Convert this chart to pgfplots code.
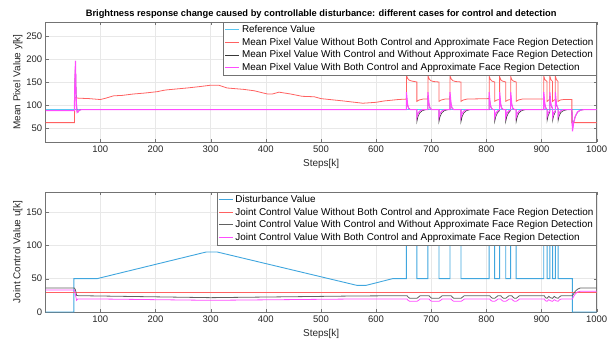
\documentclass[border=0pt]{standalone}
\usepackage{fontspec}
\setmainfont{Liberation Sans}
\usepackage{pgfplots}
\pgfplotsset{compat=1.18}
\definecolor{refc}{rgb}{0.35,0.78,0.95}
\definecolor{redc}{rgb}{1,0.38,0.38}
\definecolor{blkc}{rgb}{0.22,0.22,0.22}
\definecolor{magc}{rgb}{1,0.3,1}
\definecolor{disc}{rgb}{0.25,0.65,0.87}
\definecolor{gryc}{rgb}{0.38,0.38,0.38}
\pgfplotsset{
  myax/.style={
    scale only axis, width=551pt, height=120pt,
    xmin=1, xmax=1000,
    xtick={100,200,...,1000},
    grid=major, major grid style={gray!18, line width=0.4pt},
    axis line style={black!55, line width=0.5pt},
    tick style={black!55},
    tick align=inside, major tick length=3pt,
    ticklabel style={font=\fontsize{9.5}{11}\selectfont, text=black!85},
    /pgf/number format/assume math mode=true,
    /pgf/number format/1000 sep={},
    label style={font=\fontsize{10}{12}\selectfont, text=black!85},
    ylabel shift=-3pt,
    xlabel={Steps[k]},
    legend cell align=left,
    legend style={at={(1,1)}, anchor=north east, draw=black!55,
      font=\fontsize{9.9}{10.6}\selectfont, inner sep=1pt},
  },
  mylegline/.style 2 args={legend image code/.code={\draw[draw=#1,line width=#2] (0pt,0pt) -- (14pt,0pt);}},
}
\begin{document}
\begin{tikzpicture}
\begin{axis}[myax, name=top, ymin=20, ymax=280, ytick={50,100,150,200,250},
  ylabel={Mean Pixel Value y[k]},
  title={Brightness response change caused by controllable disturbance: different cases for control and detection},
  title style={font=\fontsize{9.3}{11}\selectfont\bfseries, yshift=-6pt}]
\addplot[forget plot, color=refc, line width=1.4pt] coordinates {(1,90) (1000,90)};
\addplot[forget plot, color=redc, line width=0.8pt] coordinates {
(1,62)(53,62)(54,116)(60,115)(80,114)(100,112)(110,115)(124,120)(140,121)(160,124)(180,126)(203,129)(215,132)(221,133)(257,137)(280,140)(300,143)(315,143)(330,137)(360,134)(379,131)(403,124)(412,124)(424,128)(445,124)(466,119)(488,118)(500,114)(540,109)(576,104)(600,106)(615,109)(640,112)(655,113)
(655,165)(657,158)(660,154)(665,152)(674,150)(674,108)(678,111)(685,113)
(694,113)(694,164)(696,157)(699,153)(704,151)(714,150)(714,108)(718,111)(725,113)
(734,113)(734,164)(736,157)(739,153)(744,151)(754,150)(754,108)(758,111)(765,113)
(805,114)(805,163)(807,156)(810,152)(815,150)(815,108)(819,111)(824,112)
(824,162)(826,155)(829,152)(835,150)(835,108)(839,111)(844,112)
(844,162)(846,155)(849,152)(854,150)(854,108)(858,111)(865,113)
(904,113)(904,163)(906,155)(910,151)(910,108)(913,111)(915,112)
(915,163)(917,155)(920,151)(920,108)(923,111)(925,112)
(925,163)(927,155)(930,151)(930,108)(934,111)(940,112)(955,112)(955,62)(1000,62)};
\addplot[forget plot, color=blkc, line width=0.6pt] coordinates {
(1,88)(53,88)(54,150)(55,190)(56,130)(57,100)(58,86)(60,85)(62,89)(65,90)
(655,90)(655,120)(657,100)(659,93)(662,90)(674,90)(674,64)(676,75)(679,83)(684,88)(690,90)
(694,90)(694,120)(696,100)(698,93)(701,90)(714,90)(714,64)(716,75)(719,83)(724,88)(730,90)
(734,90)(734,120)(736,100)(738,93)(741,90)(754,90)(754,64)(756,75)(759,83)(764,88)(770,90)
(805,90)(805,120)(807,100)(809,93)(812,90)(815,90)(815,64)(817,75)(820,83)(824,88)
(824,120)(826,100)(828,93)(831,90)(835,90)(835,64)(837,75)(840,83)(844,88)
(844,120)(846,100)(848,93)(851,90)(854,90)(854,64)(856,75)(859,83)(864,88)(870,90)
(904,90)(904,120)(906,100)(908,93)(910,90)(910,66)(912,77)(915,85)
(915,120)(917,100)(920,92)(920,66)(922,77)(925,85)
(925,120)(927,100)(930,92)(930,66)(932,77)(935,84)(940,88)(946,90)
(955,90)(956,48)(958,62)(961,75)(965,84)(970,89)(976,90)(1000,90)};
\addplot[forget plot, color=magc, line width=1.1pt] coordinates {
(1,88)(53,88)(54,160)(55,196)(56,125)(57,95)(58,84)(60,86)(62,89)(65,90)
(655,90)(655,128)(657,102)(659,93)(662,90)(674,90)(674,74)(676,82)(679,87)(684,90)
(694,90)(694,128)(696,102)(698,93)(701,90)(714,90)(714,74)(716,82)(719,87)(724,90)
(734,90)(734,128)(736,102)(738,93)(741,90)(754,90)(754,74)(756,82)(759,87)(764,90)
(805,90)(805,128)(807,102)(809,93)(812,90)(815,90)(815,74)(817,82)(820,87)(824,90)
(824,128)(826,102)(828,93)(831,90)(835,90)(835,74)(837,82)(840,87)(844,90)
(844,128)(846,102)(848,93)(851,90)(854,90)(854,74)(856,82)(859,87)(864,90)
(904,90)(904,128)(906,102)(908,93)(910,90)(910,75)(912,83)(915,88)
(915,128)(917,102)(920,92)(920,75)(922,83)(925,88)
(925,128)(927,102)(930,92)(930,75)(932,83)(935,88)(940,90)
(955,90)(956,43)(958,60)(961,75)(965,85)(970,89)(976,90)(1000,90)};
\addlegendimage{mylegline={refc}{1.4pt}}
\addlegendentry{Reference Value}
\addlegendimage{mylegline={redc}{0.8pt}}
\addlegendentry{Mean Pixel Value Without Both Control and Approximate Face Region Detection}
\addlegendimage{mylegline={blkc}{0.7pt}}
\addlegendentry{Mean Pixel Value With Control and Without Approximate Face Region Detection}
\addlegendimage{mylegline={magc}{1.4pt}}
\addlegendentry{Mean Pixel Value With Both Control and Approximate Face Region Detection}
\end{axis}
\begin{axis}[myax, name=bot, at={(top.south west)}, anchor=north west, yshift=-50pt,
  ymin=0, ymax=180, ytick={0,50,100,150},
  ylabel={Joint Control Value u[k]}]
\addplot[forget plot, color=disc, line width=0.9pt] coordinates {
(1,0)(52,0)(52,50)(94,50)(292,90)(312,90)(565,40)(582,40)(630,50)(655,50)(655,100)(674,100)(674,50)(694,50)(694,100)(714,100)(714,50)(734,50)(734,100)(754,100)(754,50)(805,50)(805,100)(815,100)(815,50)(824,50)(824,100)(835,100)(835,50)(844,50)(844,100)(854,100)(854,50)(904,50)(904,100)(910,100)(910,50)(915,50)(915,100)(920,100)(920,50)(925,50)(925,100)(930,100)(930,50)(956,50)(956,0)(1000,0)};
\addplot[forget plot, color=redc, line width=1pt] coordinates {(1,30)(1000,30)};
\addplot[forget plot, color=gryc, line width=0.8pt] coordinates {
(1,36)(53,36)(55,33)(57,25)(60,24.5)(100,24)(300,21.5)(560,24)(656,24.5)
(658,22.5)(661,20.5)(674,20.5)(677,22.5)(680,24.5)
(696,24.5)(698,22.5)(701,20.5)(714,20.5)(717,22.5)(720,24.5)
(736,24.5)(738,22.5)(741,20.5)(754,20.5)(757,22.5)(760,24.5)
(806,24.5)(808,22.5)(811,20.5)(815,20.5)(818,22.5)(821,24.5)
(826,24.5)(828,22.5)(831,20.5)(835,20.5)(838,22.5)(841,24.5)
(846,24.5)(848,22.5)(851,20.5)(854,20.5)(857,22.5)(860,24.5)
(905,24.5)(907,21.5)(910,20.5)(913,23.5)(916,21.5)(920,20.5)(923,23.5)(926,21.5)(930,20.5)(933,23)(936,24.5)
(956,24.5)(958,27)(961,31)(965,34)(970,36)(1000,36)};
\addplot[forget plot, color=magc, line width=0.8pt] coordinates {
(1,33)(53,33)(55,26)(57,17.5)(59,19.5)(100,19.5)(300,17.5)(560,19.5)(656,19.5)
(658,17.5)(661,16)(674,16)(677,17.5)(680,19.5)
(696,19.5)(698,17.5)(701,16)(714,16)(717,17.5)(720,19.5)
(736,19.5)(738,17.5)(741,16)(754,16)(757,17.5)(760,19.5)
(806,19.5)(808,17.5)(811,16)(815,16)(818,17.5)(821,19.5)
(826,19.5)(828,17.5)(831,16)(835,16)(838,17.5)(841,19.5)
(846,19.5)(848,17.5)(851,16)(854,16)(857,17.5)(860,19.5)
(905,19.5)(907,17)(910,16)(913,18.5)(916,17)(920,16)(923,18.5)(926,17)(930,16)(933,18.5)(936,19.5)
(956,19.5)(958,23)(961,27)(965,30)(970,31)(1000,31)};
\addlegendimage{mylegline={disc}{0.9pt}}
\addlegendentry{Disturbance Value}
\addlegendimage{mylegline={redc}{1pt}}
\addlegendentry{Joint Control Value Without Both Control and Approximate Face Region Detection}
\addlegendimage{mylegline={gryc}{0.8pt}}
\addlegendentry{Joint Control Value With Control and Without Approximate Face Region Detection}
\addlegendimage{mylegline={magc}{0.8pt}}
\addlegendentry{Joint Control Value With Both Control and Approximate Face Region Detection}
\end{axis}
\pgfresetboundingbox
\path ([xshift=-45.7pt,yshift=22pt]top.north west) rectangle ([xshift=19.3pt,yshift=-34.3pt]bot.south east);
\end{tikzpicture}
\end{document}
